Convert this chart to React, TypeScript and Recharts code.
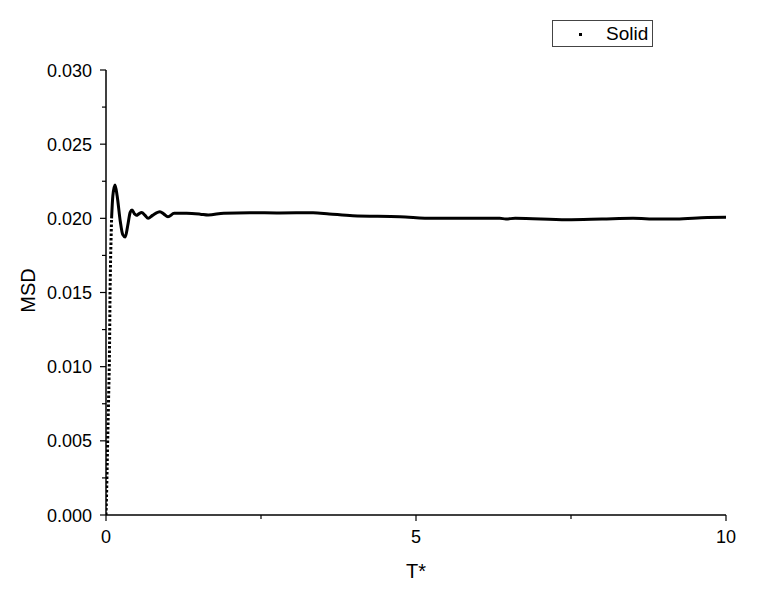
import { LineChart, Line, XAxis, YAxis } from 'recharts';

// rising part (drawn dotted)
const riseT = [0, 0.01, 0.02, 0.027, 0.04, 0.053, 0.06, 0.065, 0.075, 0.09];
const riseMsd = [0, 0.0015, 0.0035, 0.005, 0.0075, 0.01, 0.0125, 0.015, 0.0175, 0.02];

// main curve
const mainT = [
  0.09, 0.11, 0.145, 0.18, 0.23, 0.27, 0.31, 0.35, 0.39, 0.42, 0.46, 0.49, 0.53, 0.575, 0.63, 0.68,
  0.75, 0.87, 0.93, 1.0, 1.1, 1.3, 1.52, 1.65, 1.9, 2.32, 2.8, 3.34, 3.6, 3.98, 4.74, 5.28, 5.9,
  6.35, 6.45, 6.6, 7.43, 8.0, 8.5, 8.9, 9.2, 9.7, 10,
];
const mainMsd = [
  0.02, 0.0215, 0.02225, 0.0215, 0.0198, 0.0189, 0.01874, 0.0195, 0.0204, 0.02056, 0.0203, 0.0202,
  0.0203, 0.0204, 0.0202, 0.02, 0.0202, 0.02045, 0.0203, 0.0201, 0.02034, 0.02034, 0.02028,
  0.02022, 0.02035, 0.02038, 0.02036, 0.02038, 0.0203, 0.02018, 0.02011, 0.02, 0.02, 0.02, 0.01996,
  0.02, 0.0199, 0.01995, 0.02, 0.01996, 0.01996, 0.02006, 0.02007,
];

const xMajorTicks = [0, 5, 10];
const xMinorTicks = [2.5, 7.5];
const yMajorTicks = [0, 0.005, 0.01, 0.015, 0.02, 0.025, 0.03];
const yMinorTicks = [0.0025, 0.0075, 0.0125, 0.0175, 0.0225, 0.0275];

const riseData = riseT.map((t, i) => ({ t, msd: riseMsd[i] }));
const mainData = mainT.map((t, i) => ({ t, msd: mainMsd[i] }));

const FONT = '"Liberation Sans", Arial, sans-serif';

const isMajor = (list: number[], v: number) => list.some((m) => Math.abs(m - v) < 1e-9);

const YTick = (props: any) => {
  const { x, y, payload } = props;
  const major = isMajor(yMajorTicks, payload.value);
  return (
    <g>
      <line x1={x} x2={x - (major ? 6 : 4)} y1={y} y2={y} stroke="#000" strokeWidth={1.2} />
      {major && (
        <text x={x - 14} y={y + 6.5} textAnchor="end" fontSize={18} fontFamily={FONT} fill="#000">
          {payload.value.toFixed(3)}
        </text>
      )}
    </g>
  );
};

const XTick = (props: any) => {
  const { x, y, payload } = props;
  const major = isMajor(xMajorTicks, payload.value);
  return (
    <g>
      <line x1={x} x2={x} y1={y} y2={y + (major ? 6 : 4)} stroke="#000" strokeWidth={1.2} />
      {major && (
        <text x={x} y={y + 28} textAnchor="middle" fontSize={18} fontFamily={FONT} fill="#000">
          {payload.value}
        </text>
      )}
    </g>
  );
};

export default function App() {
  return (
    <div style={{ position: 'absolute', left: 0, top: 0, width: 784, height: 600, background: '#fff' }}>
      <LineChart width={784} height={600} margin={{ top: 70, right: 58, bottom: 0, left: 0 }}>
        <XAxis
          type="number"
          dataKey="t"
          domain={[0, 10]}
          ticks={[...xMajorTicks, ...xMinorTicks].sort((a, b) => a - b)}
          tick={<XTick />}
          tickLine={false}
          tickSize={0}
          tickMargin={0}
          height={85}
          axisLine={{ stroke: '#000', strokeWidth: 1.5 }}
          allowDataOverflow
          label={{
            content: ({ viewBox }: any) => (
              <text
                x={viewBox.x + viewBox.width / 2}
                y={viewBox.y + 63}
                textAnchor="middle"
                fontSize={20}
                fontFamily={FONT}
                fill="#000"
              >
                T*
              </text>
            ),
          }}
        />
        <YAxis
          type="number"
          domain={[0, 0.03]}
          ticks={[...yMajorTicks, ...yMinorTicks].sort((a, b) => a - b)}
          tick={<YTick />}
          tickLine={false}
          tickSize={0}
          tickMargin={0}
          width={106}
          axisLine={{ stroke: '#000', strokeWidth: 1.5 }}
          allowDataOverflow
          label={{
            content: ({ viewBox }: any) => {
              const cx = 35;
              const cy = viewBox.y + viewBox.height / 2 - 2;
              return (
                <text
                  x={cx}
                  y={cy}
                  textAnchor="middle"
                  transform={`rotate(-90, ${cx}, ${cy})`}
                  fontSize={20}
                  fontFamily={FONT}
                  fill="#000"
                >
                  MSD
                </text>
              );
            },
          }}
        />
        <Line
          data={riseData}
          dataKey="msd"
          type="linear"
          stroke="#000"
          strokeWidth={3}
          strokeDasharray="2.5 2"
          dot={false}
          isAnimationActive={false}
        />
        <Line
          data={mainData}
          dataKey="msd"
          type="monotone"
          stroke="#000"
          strokeWidth={3}
          dot={false}
          isAnimationActive={false}
        />
      </LineChart>
      <div
        style={{
          position: 'absolute',
          left: 552,
          top: 20,
          width: 101,
          height: 27,
          border: '1px solid #444',
          fontFamily: FONT,
          fontSize: 19,
          boxSizing: 'border-box',
        }}
      >
        <span
          style={{
            position: 'absolute',
            left: 26,
            top: 12,
            width: 3,
            height: 3,
            background: '#000',
          }}
        />
        <span style={{ position: 'absolute', left: 53, top: 1, lineHeight: '23px' }}>Solid</span>
      </div>
    </div>
  );
}
